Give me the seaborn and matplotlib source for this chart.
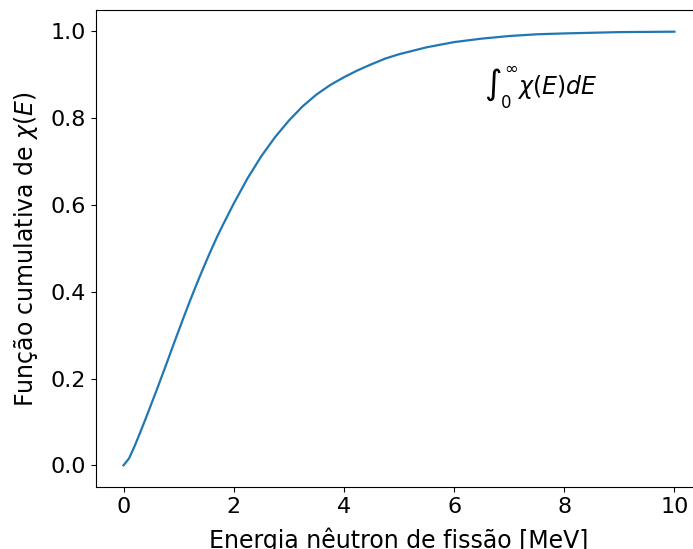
import matplotlib
matplotlib.use('Agg')
import matplotlib.pyplot as plt
import pandas as pd
import seaborn as sns

# energia [MeV] e função cumulativa
energia = [0.0, 0.1, 0.2, 0.3, 0.4, 0.5, 0.6, 0.7, 0.8, 0.9, 1.0,
           1.1, 1.2, 1.3, 1.4, 1.5, 1.6, 1.7, 1.8, 1.9, 2.0,
           2.25, 2.5, 2.75, 3.0, 3.25, 3.5, 3.75, 4.0, 4.25, 4.5, 4.75, 5.0,
           5.5, 6.0, 6.5, 7.0, 7.5, 8.0, 9.0, 10.0]
cumulativa = [0.0, 0.016, 0.044, 0.075, 0.107, 0.140, 0.173, 0.207, 0.241, 0.276, 0.310,
              0.344, 0.377, 0.409, 0.440, 0.470, 0.499, 0.527, 0.553, 0.578, 0.603,
              0.661, 0.712, 0.756, 0.794, 0.827, 0.854, 0.876, 0.894, 0.910, 0.924, 0.937, 0.947,
              0.963, 0.975, 0.983, 0.989, 0.993, 0.995, 0.998, 0.999]

df = pd.DataFrame({'E': energia, 'F': cumulativa})

fig = plt.figure(figsize=(6.93, 5.49), dpi=100)
ax = fig.add_axes([96/693, 62/549, 606/693, 477/549])
sns.lineplot(data=df, x='E', y='F', ax=ax, color='#1f77b4', lw=1.6)

ax.text(6.55, 0.87, r'$\int_0^\infty \chi(E) dE$', fontsize=17, va='center', ha='left')

ax.set_xticks([0, 2, 4, 6, 8, 10])
ax.set_yticks([0.0, 0.2, 0.4, 0.6, 0.8, 1.0])
ax.tick_params(labelsize=16)
ax.set_xlabel('Energia nêutron de fissão [MeV]', fontsize=17, labelpad=8)
ax.set_ylabel(r'Função cumulativa de $\chi(E)$', fontsize=17, labelpad=8)

plt.savefig('out.png', dpi=100)
